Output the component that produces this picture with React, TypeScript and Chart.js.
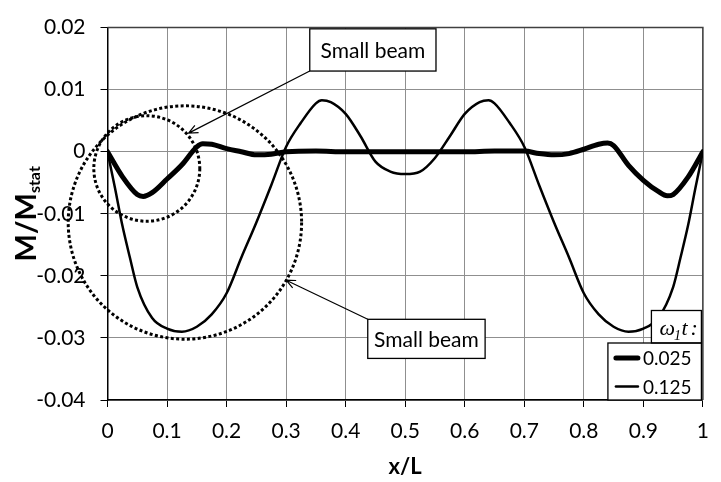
import React, { useEffect, useRef } from 'react';
import { Chart, registerables } from 'chart.js';
Chart.register(...registerables);

// ---- data ----
const thickLabel = '0.025';
const thinLabel = '0.125';
const thickX = [0, 0.025, 0.05, 0.06, 0.075, 0.1, 0.125, 0.15, 0.16, 0.175, 0.2, 0.225, 0.25, 0.275, 0.3, 0.35, 0.4, 0.45, 0.5, 0.55, 0.6, 0.65, 0.675, 0.7, 0.725, 0.75, 0.775, 0.8, 0.825, 0.84, 0.85, 0.875, 0.9, 0.925, 0.94, 0.95, 0.975, 1];
const thickY = [0, -0.0040, -0.0069, -0.0072, -0.0066, -0.0044, -0.0021, 0.0008, 0.0013, 0.0012, 0.0005, 0.0000, -0.0005, -0.0004, 0.0000, 0.0001, 0.0000, 0.0000, 0.0000, 0.0000, 0.0000, 0.0001, 0.0001, 0.0001, -0.0003, -0.0005, -0.0003, 0.0004, 0.0012, 0.0014, 0.0010, -0.0022, -0.0046, -0.0064, -0.0071, -0.0069, -0.0041, 0];
const thinX = [0, 0.0125, 0.025, 0.0375, 0.05, 0.075, 0.1, 0.125, 0.15, 0.175, 0.2, 0.225, 0.25, 0.275, 0.3, 0.325, 0.35, 0.36, 0.375, 0.4, 0.425, 0.45, 0.475, 0.5, 0.525, 0.55, 0.575, 0.6, 0.625, 0.64, 0.65, 0.675, 0.7, 0.725, 0.75, 0.775, 0.8, 0.825, 0.85, 0.875, 0.9, 0.925, 0.95, 0.9625, 0.975, 0.9875, 1];
const thinY = [0, -0.0058, -0.0119, -0.0170, -0.0218, -0.0268, -0.0285, -0.0290, -0.0282, -0.0262, -0.0228, -0.0170, -0.0114, -0.0054, 0.0008, 0.0047, 0.0078, 0.0083, 0.0080, 0.0061, 0.0025, -0.0016, -0.0032, -0.0036, -0.0032, -0.0010, 0.0025, 0.0061, 0.0080, 0.0083, 0.0078, 0.0047, 0.0008, -0.0054, -0.0114, -0.0170, -0.0228, -0.0262, -0.0282, -0.0290, -0.0285, -0.0268, -0.0218, -0.0170, -0.0119, -0.0058, 0];
const xTicks = [0, 0.1, 0.2, 0.3, 0.4, 0.5, 0.6, 0.7, 0.8, 0.9, 1];
const yTicks = [-0.04, -0.03, -0.02, -0.01, 0, 0.01, 0.02];
const xTitle = 'x/L';
const yTitleMain = 'M/M';
const yTitleSub = 'stat';
const calloutText = 'Small beam';

// ---- annotation geometry (data coordinates) ----
const circles = [
  { cx: 0.066, cy: -0.0027, rx: 0.089, ry: 0.0085 },
  { cx: 0.130, cy: -0.0114, rx: 0.196, ry: 0.0188 },
];
const callouts = [
  { x1: 0.3397, x2: 0.5517, yTop: 0.0198, yBot: 0.0130, fromX: 0.3397, fromY: 0.0130, toX: 0.1362, toY: 0.0030 },
  { x1: 0.4371, x2: 0.6342, yTop: -0.0270, yBot: -0.0333, fromX: 0.4371, fromY: -0.0270, toX: 0.3001, toY: -0.0207 },
];

const FONT = 'Lato';

function drawArrow(ctx: CanvasRenderingContext2D, x0: number, y0: number, x1: number, y1: number) {
  ctx.beginPath();
  ctx.moveTo(x0, y0);
  ctx.lineTo(x1, y1);
  const a = Math.atan2(y1 - y0, x1 - x0);
  const L = 10, s = 0.42;
  ctx.moveTo(x1 - L * Math.cos(a - s), y1 - L * Math.sin(a - s));
  ctx.lineTo(x1, y1);
  ctx.lineTo(x1 - L * Math.cos(a + s), y1 - L * Math.sin(a + s));
  ctx.stroke();
}

export default function App() {
  const ref = useRef<HTMLCanvasElement>(null);
  useEffect(() => {
    const canvas = ref.current!;
    const overlay = {
      id: 'overlay',
      beforeDatasetsDraw(chart: any) {
        const { ctx, chartArea: a } = chart;
        ctx.save();
        ctx.strokeStyle = '#404040';
        ctx.lineWidth = 1.5;
        ctx.beginPath();
        ctx.moveTo(a.left, a.top);
        ctx.lineTo(a.right, a.top);
        ctx.lineTo(a.right, a.bottom);
        ctx.stroke();
        ctx.restore();
      },
      afterDatasetsDraw(chart: any) {
        const { ctx, chartArea: a, scales } = chart;
        const xs = scales.x, ys = scales.y;
        ctx.save();
        // dotted circles
        ctx.strokeStyle = '#000';
        ctx.lineWidth = 3;
        ctx.setLineDash([3, 2.4]);
        for (const c of circles) {
          const px = xs.getPixelForValue(c.cx), py = ys.getPixelForValue(c.cy);
          const rx = Math.abs(xs.getPixelForValue(c.cx + c.rx) - px);
          const ry = Math.abs(ys.getPixelForValue(c.cy + c.ry) - py);
          ctx.beginPath();
          ctx.ellipse(px, py, rx, ry, 0, 0, Math.PI * 2);
          ctx.stroke();
        }
        ctx.setLineDash([]);
        // callouts
        for (const c of callouts) {
          ctx.strokeStyle = '#000';
          ctx.lineWidth = 1.2;
          drawArrow(ctx, xs.getPixelForValue(c.fromX), ys.getPixelForValue(c.fromY), xs.getPixelForValue(c.toX), ys.getPixelForValue(c.toY));
          const l = xs.getPixelForValue(c.x1), r = xs.getPixelForValue(c.x2);
          const t = ys.getPixelForValue(c.yTop), b = ys.getPixelForValue(c.yBot);
          ctx.fillStyle = '#fff';
          ctx.fillRect(l, t, r - l, b - t);
          ctx.lineWidth = 1.3;
          ctx.strokeRect(l, t, r - l, b - t);
          ctx.fillStyle = '#000';
          ctx.font = `21px ${FONT}`;
          ctx.textAlign = 'center';
          ctx.textBaseline = 'middle';
          ctx.fillText(calloutText, (l + r) / 2, (t + b) / 2 + 1);
        }
        // legend
        const R = a.right - 1.5, B = a.bottom;
        const hL = R - 50, hT = B - 89.5, hB = B - 57;
        const eL = R - 93.5;
        ctx.fillStyle = '#fff';
        ctx.fillRect(hL, hT, R - hL, hB - hT);
        ctx.fillRect(eL, hB, R - eL, B - hB);
        ctx.strokeStyle = '#000';
        ctx.lineWidth = 1.3;
        ctx.strokeRect(hL, hT, R - hL, hB - hT);
        ctx.strokeRect(eL, hB, R - eL, B - hB);
        // header: omega_1 t :
        ctx.fillStyle = '#000';
        ctx.textAlign = 'left';
        ctx.textBaseline = 'alphabetic';
        let hx = hL + 8;
        const hy = hB - 8;
        ctx.font = 'italic 22px "Liberation Serif"';
        ctx.fillText('ω', hx, hy);
        hx += ctx.measureText('ω').width - 1;
        ctx.font = 'italic 14px "Liberation Serif"';
        ctx.fillText('1', hx, hy + 5);
        hx += ctx.measureText('1').width + 0.5;
        ctx.font = 'italic 22px "Liberation Serif"';
        ctx.fillText('t', hx, hy);
        hx += ctx.measureText('t').width + 3;
        ctx.fillText(':', hx, hy);
        // entries
        const entries = [
          { label: thickLabel, w: 5, y: hB + 15 },
          { label: thinLabel, w: 2.5, y: hB + 43.5 },
        ];
        for (const e of entries) {
          ctx.strokeStyle = '#000';
          ctx.lineWidth = e.w;
          ctx.lineCap = 'round';
          ctx.beginPath();
          ctx.moveTo(eL + 8, e.y);
          ctx.lineTo(eL + 30, e.y);
          ctx.stroke();
          ctx.font = `19px ${FONT}`;
          ctx.textBaseline = 'middle';
          ctx.fillText(e.label, eL + 35, e.y + 1);
        }
        ctx.restore();
      },
      afterDraw(chart: any) {
        const { ctx, chartArea: a } = chart;
        ctx.save();
        ctx.fillStyle = '#000';
        // x title
        ctx.font = `bold 22px ${FONT}`;
        ctx.textAlign = 'center';
        ctx.textBaseline = 'middle';
        ctx.fillText(xTitle, (a.left + a.right) / 2, 467);
        // y title
        ctx.translate(35.5, (a.top + a.bottom) / 2);
        ctx.rotate(-Math.PI / 2);
        ctx.textAlign = 'left';
        ctx.textBaseline = 'alphabetic';
        ctx.font = `bold 29px ${FONT}`;
        const w1 = ctx.measureText(yTitleMain).width;
        ctx.font = `bold 16px ${FONT}`;
        const w2 = ctx.measureText(yTitleSub).width;
        const start = -(w1 + w2) / 2;
        ctx.font = `bold 29px ${FONT}`;
        ctx.fillText(yTitleMain, start, 0);
        ctx.font = `bold 16px ${FONT}`;
        ctx.fillText(yTitleSub, start + w1, 4);
        ctx.restore();
      },
    };

    const fmt = (v: number) => {
      if (Math.abs(v) < 1e-9) return '0';
      const r = Math.round(v * 100) / 100;
      return String(r);
    };
    const fmtX = (v: number) => String(Math.round(v * 10) / 10);

    const chart = new Chart(canvas, {
      type: 'line',
      data: {
        datasets: [
          {
            label: thickLabel,
            data: thickX.map((x, i) => ({ x, y: thickY[i] })),
            borderColor: '#000',
            borderWidth: 5,
            pointRadius: 0,
            cubicInterpolationMode: 'monotone',
            borderCapStyle: 'round',
            borderJoinStyle: 'round',
            fill: false,
          },
          {
            label: thinLabel,
            data: thinX.map((x, i) => ({ x, y: thinY[i] })),
            borderColor: '#000',
            borderWidth: 2.5,
            pointRadius: 0,
            cubicInterpolationMode: 'monotone',
            borderCapStyle: 'round',
            borderJoinStyle: 'round',
            fill: false,
          },
        ],
      },
      options: {
        responsive: false,
        animation: false,
        devicePixelRatio: 1,
        layout: { padding: { top: 21, right: 8, left: 0, bottom: 0 } },
        plugins: { legend: { display: false }, tooltip: { enabled: false }, title: { display: false } },
        scales: {
          x: {
            type: 'linear',
            min: 0,
            max: 1,
            afterBuildTicks: (s: any) => { s.ticks = xTicks.map((v) => ({ value: v })); },
            afterFit: (s: any) => { s.height = 82; },
            ticks: { callback: (v: any) => fmtX(Number(v)), color: '#000', font: { family: FONT, size: 21 }, padding: 12, maxRotation: 0, autoSkip: false },
            grid: { color: '#8f8f8f', lineWidth: 1, tickColor: '#000', tickLength: 7, drawTicks: true },
            border: { color: '#000', width: 1.5 },
          },
          y: {
            type: 'linear',
            min: -0.04,
            max: 0.02,
            afterBuildTicks: (s: any) => { s.ticks = yTicks.map((v) => ({ value: v })); },
            afterFit: (s: any) => { s.width = 107.5; },
            ticks: { callback: (v: any) => fmt(Number(v)), color: '#000', font: { family: FONT, size: 21 }, padding: 15, autoSkip: false },
            grid: { color: '#8f8f8f', lineWidth: 1, tickColor: '#000', tickLength: 7, drawTicks: true },
            border: { color: '#000', width: 1.5 },
          },
        },
      },
      plugins: [overlay],
    } as any);
    return () => chart.destroy();
  }, []);
  return (
    <div style={{ position: 'fixed', left: 0, top: 0, width: 721, height: 482, background: '#fff' }}>
      <canvas ref={ref} width={721} height={482} style={{ display: 'block', width: 721, height: 482 }} />
    </div>
  );
}
